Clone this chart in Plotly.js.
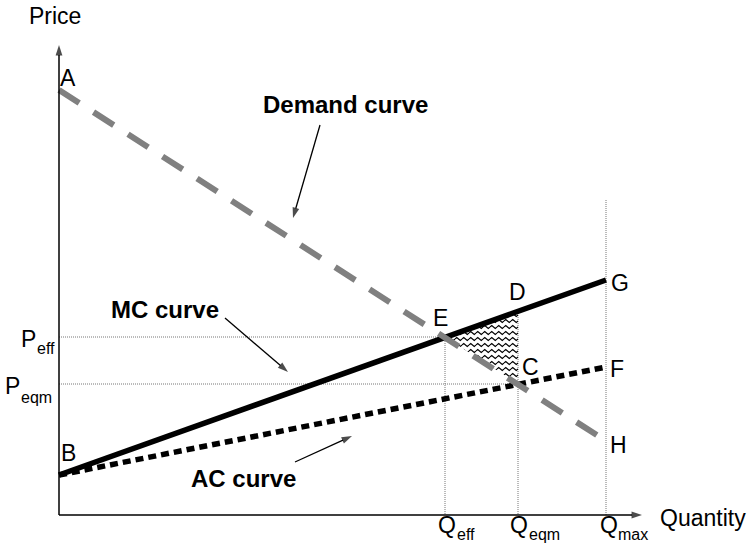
<!DOCTYPE html>
<html>
<head>
<meta charset="utf-8">
<script src="https://cdn.plot.ly/plotly-3.0.1.min.js"></script>
<style>html,body{margin:0;padding:0;background:#fff;}#chart{width:753px;height:551px;}</style>
</head>
<body>
<div id="chart"></div>
<script>
// Conceptual diagram values (Quantity, Price)
const demandQ = [0, 547];
const demandP = [425, 74];
const mcQ = [0, 547];
const mcP = [40, 235];
const acQ = [0, 547];
const acP = [40, 148];
// Key points
const qEff = 386, pEff = 178;   // E
const qEqm = 459, pEqm = 131;   // C
const pD = 204;                 // D (MC at Q_eqm)
const qMax = 547, pMaxTop = 315;
const triQ = [qEff, qEqm, qEqm, qEff];
const triP = [pEff, pD, pEqm, pEff];
// Axis extents
const axisTopP = 470, axisEndQ = 583;
// Labels
const pointLabels = ['A', 'B', 'E', 'D', 'C', 'G', 'F', 'H'];
const pointLabelQ = [9, 9, 381, 458, 471, 561, 558, 559];
const pointLabelP = [437, 62, 197, 223, 148, 232, 146, 70];
const tickMain = ['Q', 'Q', 'Q', 'P', 'P'];
const tickSub = ['eff', 'eqm', 'max', 'eff', 'eqm'];
const tickMainQ = [388, 460, 550, -31, -47];
const tickMainP = [-10, -10, -10, 176, 129];
const tickSubQ = [396, 468, 557, -24, -40];
const tickSubP = [-19, -19, -19, 167, 118];
const curveNames = ['Demand curve', 'MC curve', 'AC curve'];
const curveNameQ = [286, 106, 184];
const curveNameP = [411, 206, 37];
const arrowTailQ = [261, 166, 236];
const arrowTailP = [390, 197, 53];
const arrowHeadQ = [234, 229, 293];
const arrowHeadP = [297, 143, 79];

const guide = {color: '#777', width: 1, dash: '1px,1px'};
function arrowTrace(x0, y0, x1, y1, w, size) {
  return {x: [x0, x1], y: [y0, y1], mode: 'lines+markers', line: {color: '#000', width: w},
    marker: {symbol: ['circle', 'arrow'], size: [0, size], color: '#000', angleref: 'previous', line: {width: 0}}};
}
const traces = [
  {x: [0, qEff, qEff], y: [pEff, pEff, 0], mode: 'lines', line: guide},
  {x: [0, qEqm], y: [pEqm, pEqm], mode: 'lines', line: guide},
  {x: [qEqm, qEqm], y: [pD, 0], mode: 'lines', line: guide},
  {x: [qMax, qMax], y: [pMaxTop, 0], mode: 'lines', line: guide},
  {x: triQ, y: triP, mode: 'lines', fill: 'toself', fillcolor: 'rgba(0,0,0,0.3)', line: {width: 0}},
  {x: acQ, y: acP, mode: 'lines', line: {color: '#000', width: 5.5, dash: '8px,5px'}},
  {x: mcQ, y: mcP, mode: 'lines', line: {color: '#000', width: 5.5}},
  {x: demandQ, y: demandP, mode: 'lines', line: {color: '#808080', width: 6, dash: '24px,17px'}},
  arrowTrace(0, 0, 0, axisTopP, 1.5, 11),
  arrowTrace(0, 0, axisEndQ, 0, 1.5, 11)
];
for (let i = 0; i < curveNames.length; i++) {
  traces.push(arrowTrace(arrowTailQ[i], arrowTailP[i], arrowHeadQ[i], arrowHeadP[i], 1.3, 11));
}
traces.forEach(t => { t.hoverinfo = 'skip'; });

const fam = 'Liberation Sans, Arial, sans-serif';
const font = {family: fam, size: 23, color: '#000'};
const subFont = {family: fam, size: 16, color: '#000'};
const ann = [];
ann.push({x: -4, y: 499, text: 'Price', showarrow: false, font: font});
ann.push({x: 644, y: -3, text: 'Quantity', showarrow: false, font: font});
pointLabels.forEach((t, i) => ann.push({x: pointLabelQ[i], y: pointLabelP[i], text: t, showarrow: false, font: font}));
tickMain.forEach((t, i) => {
  ann.push({x: tickMainQ[i], y: tickMainP[i], text: t, showarrow: false, font: font});
  ann.push({x: tickSubQ[i], y: tickSubP[i], text: tickSub[i], xanchor: 'left', showarrow: false, font: subFont});
});
curveNames.forEach((t, i) => {
  ann.push({x: curveNameQ[i], y: curveNameP[i], text: '<b>' + t + '</b>', showarrow: false, font: Object.assign({}, font, {size: 24})});
});

const layout = {
  width: 753, height: 551,
  margin: {l: 0, r: 0, t: 0, b: 0, pad: 0},
  paper_bgcolor: '#fff', plot_bgcolor: '#fff',
  showlegend: false,
  xaxis: {range: [-59, 694], visible: false, fixedrange: true},
  yaxis: {range: [-36, 515], visible: false, fixedrange: true},
  annotations: ann
};

Plotly.newPlot('chart', traces, layout, {staticPlot: true, displayModeBar: false}).then(function (gd) {
  try {
    const svg = gd.querySelector('.main-svg');
    const ns = 'http://www.w3.org/2000/svg';
    let defs = svg.querySelector('defs');
    if (!defs) { defs = document.createElementNS(ns, 'defs'); svg.insertBefore(defs, svg.firstChild); }
    const pat = document.createElementNS(ns, 'pattern');
    pat.setAttribute('id', 'wavyHatch');
    pat.setAttribute('patternUnits', 'userSpaceOnUse');
    pat.setAttribute('width', '7');
    pat.setAttribute('height', '6');
    const p = document.createElementNS(ns, 'path');
    p.setAttribute('d', 'M0,3 L1.75,1.5 L3.5,3 L5.25,4.5 L7,3');
    p.setAttribute('fill', 'none');
    p.setAttribute('stroke', '#000');
    p.setAttribute('stroke-width', '1.1');
    pat.appendChild(p);
    defs.appendChild(pat);
    const tr = gd.querySelectorAll('.scatterlayer .trace')[4];
    const fp = tr.querySelector('path.js-fill');
    fp.style.fill = 'url(#wavyHatch)';
    fp.style.fillOpacity = '1';
  } catch (e) {}
});
</script>
</body>
</html>
